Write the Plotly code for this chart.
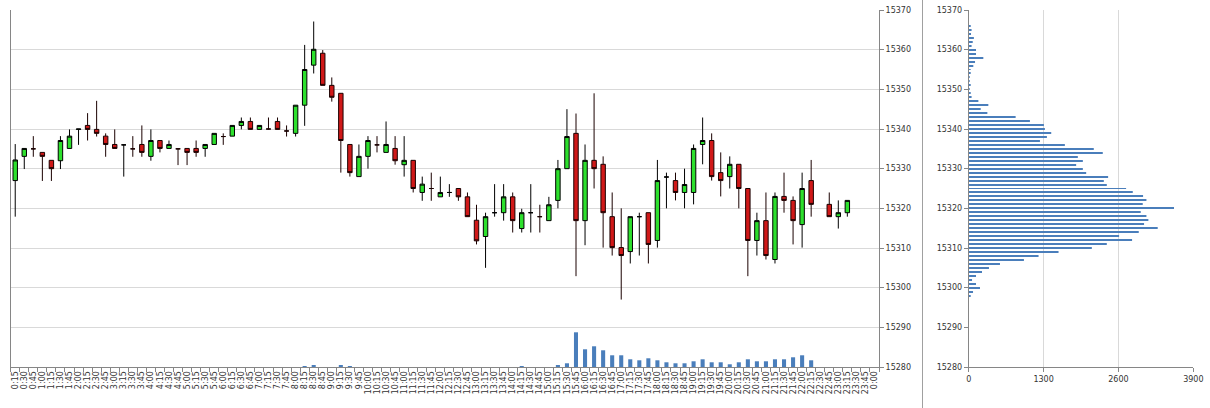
import plotly.graph_objects as go

# ---------------- data ----------------
times = ["0:15","0:30","0:45","1:00","1:15","1:30","1:45","2:00","2:15","2:30","2:45","3:00",
         "3:15","3:30","3:45","4:00","4:15","4:30","4:45","5:00","5:15","5:30","5:45","6:00",
         "6:15","6:30","6:45","7:00","7:15","7:30","7:45","8:00","8:15","8:30","8:45","9:00",
         "9:15","9:30","9:45","10:00","10:15","10:30","10:45","11:00","11:15","11:30","11:45","12:00",
         "12:15","12:30","12:45","13:00","13:15","13:30","13:45","14:00","14:15","14:30","14:45","15:00",
         "15:15","15:30","15:45","16:00","16:15","16:30","16:45","17:00","17:15","17:30","17:45","18:00",
         "18:15","18:30","18:45","19:00","19:15","19:30","19:45","20:00","20:15","20:30","20:45","21:00",
         "21:15","21:30","21:45","22:00","22:15","22:30","22:45","23:00","23:15","23:30","23:45","0:00"]

open_ = [15327.0,15333.1,15335.0,15334.1,15332.1,15332.0,15335.1,15339.9,15340.9,15339.9,15338.2,15336.1,
         15336.0,15335.0,15336.1,15333.1,15337.1,15335.1,15335.0,15335.1,15335.1,15335.1,15336.1,15338.1,
         15338.2,15340.9,15341.9,15339.9,15340.0,15341.9,15339.5,15338.9,15346.0,15356.1,15359.1,15351.0,
         15349.0,15336.1,15328.0,15333.1,15336.0,15334.1,15335.1,15331.0,15332.1,15324.0,15325.0,15322.9,
         15324.0,15325.0,15322.9,15317.0,15312.9,15318.9,15318.9,15322.9,15314.9,15318.9,15317.9,15316.9,
         15322.0,15330.0,15338.9,15316.9,15332.1,15331.1,15317.9,15310.1,15309.1,15317.9,15318.9,15311.9,
         15327.9,15327.0,15324.0,15324.0,15336.1,15337.1,15329.0,15328.0,15331.1,15325.0,15311.9,15316.9,
         15307.1,15323.0,15322.0,15315.9,15327.0,None,15321.0,15317.9,15318.9,None,None,None]

high = [15336.2,15335.2,15338.2,15334.1,15332.1,15338.2,15339.9,15340.0,15344.0,15347.1,15338.9,15339.9,
        15336.1,15338.2,15340.9,15339.9,15337.1,15337.1,15335.0,15335.1,15337.1,15336.1,15338.9,15338.9,
        15340.9,15342.9,15342.9,15340.9,15342.9,15342.9,15340.9,15346.0,15361.2,15367.1,15359.9,15353.0,
        15349.0,15336.1,15336.1,15338.2,15338.2,15341.9,15338.2,15338.2,15332.1,15328.0,15329.0,15328.0,
        15326.1,15325.0,15324.0,15320.9,15318.9,15326.1,15326.1,15324.0,15319.9,15326.1,15320.9,15322.9,
        15332.2,15345.0,15343.9,15336.1,15349.0,15333.1,15324.0,15320.0,15317.9,15318.9,15318.9,15332.2,
        15329.0,15329.0,15330.0,15336.1,15342.9,15338.9,15334.1,15333.1,15331.1,15325.0,15318.9,15324.0,
        15324.0,15329.0,15323.0,15329.0,15332.2,None,15324.0,15322.0,15322.0,None,None,None]

low = [15317.9,15329.9,15333.0,15326.9,15326.9,15329.9,15335.1,15336.0,15337.1,15338.1,15333.0,15335.1,
       15328.0,15333.0,15333.0,15332.0,15334.1,15335.1,15330.9,15330.9,15333.0,15333.0,15336.1,15336.0,
       15338.2,15339.9,15339.9,15339.9,15339.9,15339.9,15338.1,15338.1,15340.8,15354.0,15351.0,15346.9,
       15329.0,15328.0,15328.0,15330.0,15334.1,15334.1,15331.0,15328.0,15324.0,15321.9,15321.9,15322.9,
       15322.9,15321.9,15317.9,15310.9,15305.0,15317.9,15316.9,15313.9,15313.9,15313.9,15313.9,15316.9,
       15320.0,15330.0,15302.9,15310.7,15325.0,15310.1,15308.1,15297.0,15306.1,15308.1,15306.1,15310.1,
       15320.0,15322.0,15320.0,15321.0,15331.1,15327.0,15323.0,15325.0,15320.0,15302.9,15308.1,15307.1,
       15306.1,15318.9,15310.9,15310.1,15317.9,None,15317.9,15314.9,15317.9,None,None,None]

close = [15332.2,15335.1,15335.0,15333.1,15330.0,15337.1,15338.2,15340.0,15339.9,15338.9,15336.1,15335.1,
         15336.0,15335.0,15334.1,15337.1,15335.1,15336.1,15335.0,15334.1,15334.1,15336.1,15338.9,15338.1,
         15340.9,15341.9,15339.9,15340.9,15340.0,15339.9,15339.5,15346.0,15355.0,15360.1,15351.0,15348.0,
         15337.1,15329.0,15333.1,15337.1,15336.0,15336.1,15332.0,15332.1,15325.0,15326.1,15325.0,15324.0,
         15324.0,15322.9,15317.9,15311.8,15317.9,15318.9,15322.9,15316.9,15318.9,15318.9,15317.9,15320.9,
         15330.0,15338.1,15316.9,15332.1,15330.0,15318.9,15310.1,15308.1,15317.9,15317.9,15310.9,15327.0,
         15327.9,15324.0,15326.0,15335.1,15337.1,15328.0,15327.0,15331.1,15325.0,15311.9,15316.9,15308.1,
         15323.0,15322.0,15316.9,15325.0,15321.0,None,15317.9,15318.9,15322.0,None,None,None]

volume = [0,0,0,0,0,0,0,0,0,0,0,0,
          0,0,0,0,0,0,0,0,0,0,0,0,
          0,0,0,0,0,0,0,0,250,500,0,0,
          500,250,0,0,0,0,0,0,0,0,0,0,
          0,0,0,0,0,0,0,0,250,0,0,0,
          400,1040,9720,4960,5800,4680,3280,3280,2160,1880,2440,1880,
          1320,1040,1040,1600,2160,1320,1320,760,1320,2160,1600,1600,
          2160,2160,2720,3280,1880,0,0,0,0,0,0,0]

profile_price = [15298,15299,15300,15301,15302,15303,15304,15305,15306,15307,15308,15309,
                 15310,15311,15312,15313,15314,15315,15316,15317,15318,15319,15320,15321,
                 15322,15323,15324,15325,15326,15327,15328,15329,15330,15331,15332,15333,
                 15334,15335,15336,15337,15338,15339,15340,15341,15342,15343,15344,15345,
                 15346,15347,15348,15349,15350,15351,15352,15353,15354,15355,15356,15357,
                 15358,15359,15360,15361,15362,15363,15364,15365,15366]
profile_volume = [23,75,196,127,58,127,231,352,543,959,1213,1560,
                  2138,2398,2837,2612,2953,3282,3045,3120,3086,2987,3565,3022,
                  3086,3028,2849,2733,2398,2346,2421,2040,1982,1866,1982,1895,
                  2328,2172,1670,1237,1358,1433,1323,1306,1063,815,324,208,
                  341,168,50,35,10,20,10,15,20,25,80,110,
                  254,127,127,50,70,90,40,50,35]

price_ticks = [15280,15290,15300,15310,15320,15330,15340,15350,15360,15370]
profile_ticks = [0,1300,2600,3900]

# ---------------- figure ----------------
W, H = 1210, 408
def fx(px):
    return px / W
def fy(py):
    return 1 - py / H

idx = [i for i, o in enumerate(open_) if o is not None]
cx = [times[i] for i in idx]

fig = go.Figure()

fig.add_trace(go.Bar(
    x=times, y=volume, xaxis="x", yaxis="y2",
    marker=dict(color="#4a7ebb", line=dict(width=0)),
    width=0.45, showlegend=False, hoverinfo="skip"))

fig.add_trace(go.Candlestick(
    x=cx,
    open=[open_[i] for i in idx], high=[high[i] for i in idx],
    low=[low[i] for i in idx], close=[close[i] for i in idx],
    xaxis="x", yaxis="y",
    increasing=dict(line=dict(color="#000000", width=1), fillcolor="#2de02d"),
    decreasing=dict(line=dict(color="#1a0000", width=1), fillcolor="#d01818"),
    whiskerwidth=0, showlegend=False))

fig.add_trace(go.Bar(
    x=profile_volume, y=profile_price, orientation="h",
    xaxis="x2", yaxis="y3", width=0.25,
    marker=dict(color="#4a7ebb", line=dict(width=0)),
    showlegend=False, hoverinfo="skip"))

axis_col = "#868686"
grid_col = "#d9d9d9"
tfont = dict(family="DejaVu Sans", size=8, color="#333333")

fig.update_layout(
    width=W, height=H,
    margin=dict(l=0, r=0, t=0, b=0),
    paper_bgcolor="white", plot_bgcolor="white",
    boxgap=0.3,
    xaxis=dict(
        domain=[fx(10.7), fx(879)], anchor="y",
        type="category", categoryorder="array", categoryarray=times,
        range=[-0.5, len(times) - 0.5],
        tickmode="array", tickvals=times, ticktext=times,
        rangeslider=dict(visible=False),
        showgrid=False, zeroline=False,
        showline=True, linecolor=axis_col, linewidth=1,
        ticks="outside", tickson="boundaries", ticklen=4, tickcolor=axis_col,
        tickangle=-90, tickfont=tfont, automargin=False),
    yaxis=dict(
        domain=[fy(367), fy(10)], anchor="x", side="right",
        range=[15280, 15370], tickvals=price_ticks, tickformat="d",
        showgrid=True, gridcolor=grid_col, gridwidth=1, zeroline=False,
        showline=True, mirror=True, linecolor=axis_col, linewidth=1,
        ticks="outside", ticklen=4, tickcolor=axis_col,
        ticklabeloverflow="allow",
        tickfont=tfont, automargin=False),
    yaxis2=dict(
        overlaying="y", anchor="x", range=[0, 100000], visible=False),
    xaxis2=dict(
        domain=[fx(968.7), fx(1193.3)], anchor="y3",
        range=[0, 3900], tickvals=profile_ticks, tickformat="d",
        showgrid=True, gridcolor=grid_col, zeroline=False,
        showline=True, linecolor=axis_col, linewidth=1,
        ticks="outside", ticklen=4, tickcolor=axis_col,
        ticklabeloverflow="allow",
        tickfont=tfont, automargin=False),
    yaxis3=dict(
        domain=[fy(367), fy(10)], anchor="x2",
        range=[15280, 15370], tickvals=price_ticks, tickformat="d",
        showgrid=False, zeroline=False,
        showline=True, linecolor=axis_col, linewidth=1,
        ticks="outside", ticklen=4, tickcolor=axis_col,
        ticklabeloverflow="allow",
        tickfont=tfont, automargin=False),
    shapes=[dict(type="line", xref="paper", yref="paper",
                 x0=fx(922.5), x1=fx(922.5), y0=0, y1=1,
                 line=dict(color="#a0a0a0", width=1))],
)

# remove the default page margin so the figure sits at the window's top-left corner
fig.write_html("out.html", config={"displayModeBar": False},
               post_script="document.body.style.margin='0';")
